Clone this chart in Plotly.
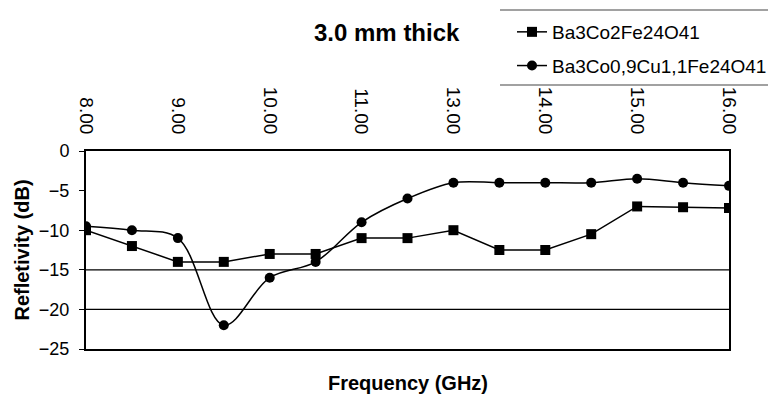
import plotly.graph_objects as go

freq = ["8.00", "8.50", "9.00", "9.50", "10.00", "10.50", "11.00", "12.00",
        "13.00", "13.50", "14.00", "14.50", "15.00", "15.50", "16.00"]
tick_labels = ["8.00", "9.00", "10.00", "11.00", "13.00", "14.00", "15.00", "16.00"]
s1_name = "Ba3Co2Fe24O41"
s1 = [-10, -12, -14, -14, -13, -13, -11, -11, -10, -12.5, -12.5, -10.5, -7, -7.1, -7.2]
s2_name = "Ba3Co0,9Cu1,1Fe24O41"
s2 = [-9.5, -10, -11, -22, -16, -14, -9, -6, -4, -4, -4, -4, -3.5, -4, -4.4]
grid_vals = [-15, -20]

FONT = "Liberation Sans, Arial, sans-serif"

fig = go.Figure()
fig.add_trace(go.Scatter(x=freq, y=s1, name=s1_name, mode="lines+markers",
                         line=dict(color="black", width=1.5),
                         marker=dict(symbol="square", size=10, color="black"),
                         legendgroup="a"))
fig.add_trace(go.Scatter(x=freq, y=s2, name=s2_name, mode="lines+markers",
                         line=dict(color="black", width=1.5, shape="spline", smoothing=1.0),
                         marker=dict(symbol="circle", size=10, color="black"),
                         legendgroup="b"))

for g in grid_vals:
    fig.add_shape(type="line", xref="paper", yref="y", x0=0, x1=1, y0=g, y1=g,
                  line=dict(color="black", width=1.2), layer="below")

# legend frame lines (top & bottom)
for yp in [10, 85]:
    fig.add_shape(type="line", xref="paper", yref="paper",
                  x0=(500 - 86) / 643, x1=(768 - 86) / 643,
                  y0=(349 - yp) / 198, y1=(349 - yp) / 198,
                  line=dict(color="#444444", width=1.2))

fig.update_layout(
    width=768, height=395,
    margin=dict(l=86, r=39, t=151, b=46, autoexpand=False),
    paper_bgcolor="white", plot_bgcolor="white",
    font=dict(family=FONT, size=18, color="black"),
    showlegend=True,
    legend=dict(x=(512 - 86) / 643, y=(349 - 13) / 198, xanchor="left", yanchor="top",
                font=dict(size=19), bgcolor="rgba(0,0,0,0)", traceorder="grouped",
                tracegroupgap=6),
    xaxis=dict(type="category", side="top", range=[0, len(freq) - 1],
               tickvals=tick_labels, ticktext=tick_labels, tickangle=90,
               showline=True, linecolor="black", linewidth=2, mirror=True,
               ticks="", showgrid=False, zeroline=False, ticklabelstandoff=8,
               tickfont=dict(size=19)),
    yaxis=dict(range=[-25, 0], dtick=5, showline=True, linecolor="black", linewidth=2,
               mirror=True, ticks="outside", ticklen=5, tickcolor="black",
               showgrid=False, zeroline=False, ticklabelstandoff=6,
               tickfont=dict(size=18),
               title=dict(text="<b>Refletivity (dB)</b>", font=dict(size=20), standoff=4)),
    annotations=[
        dict(text="<b>Frequency (GHz)</b>", xref="paper", yref="paper",
             x=(408 - 86) / 643, y=(349 - 383) / 198, showarrow=False,
             xanchor="center", yanchor="middle", font=dict(size=20)),
        dict(text="<b>3.0 mm thick</b>", xref="paper", yref="paper",
             x=(387 - 86) / 643, y=(349 - 33) / 198, showarrow=False,
             xanchor="center", yanchor="middle", font=dict(size=24)),
    ],
)

fig.write_html("out.html")
